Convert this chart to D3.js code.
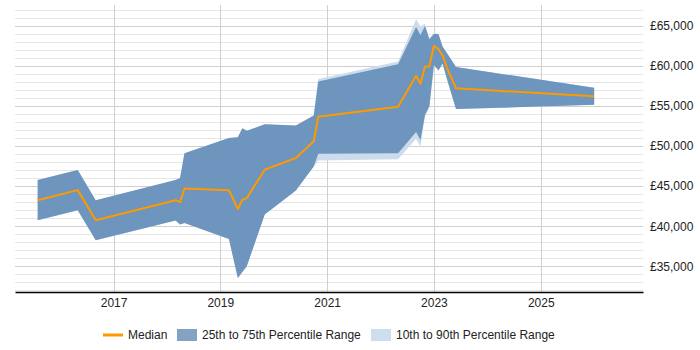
<!DOCTYPE html>
<html>
<head>
<meta charset="utf-8">
<script src="https://cdn.jsdelivr.net/npm/d3@7"></script>
<style>
  body { margin: 0; background: #fff; }
  svg text { font-family: "Liberation Sans", Arial, sans-serif; }
</style>
</head>
<body>
<div id="chart"></div>
<script>
// percentile data, one entry per month sampled
const dates = ["2015-08", "2016-05", "2016-09", "2018-03", "2018-04", "2018-05", "2019-03", "2019-05",
  "2019-06", "2019-07", "2019-11", "2020-06", "2020-10", "2020-11", "2022-05", "2022-09", "2022-10",
  "2022-11", "2022-12", "2023-01", "2023-02", "2023-03", "2023-04", "2023-06", "2026-01"];
const median = [43250, 44500, 40750, 43250, 43000, 44700, 44500, 42150, 43300, 43500, 47050, 48500,
  50600, 53650, 54900, 58750, 57750, 59900, 59900, 62500, 62050, 61300, 59700, 57200, 56200];
const p75 = [45750, 47000, 43250, 45750, 46000, 49100, 51000, 51100, 52200, 51900, 52700, 52550,
  53800, 58050, 60200, 64850, 63850, 64950, 63300, 63950, 63950, 62400, 61550, 59850, 57250];
const p25 = [40750, 42000, 38250, 40700, 40200, 40400, 38400, 33550, 34300, 35000, 41450, 44450,
  47450, 49050, 49100, 51750, 50750, 53900, 55000, 60100, 59400, 60300, 58300, 54600, 55150];
const p90 = [45750, 47000, 43250, 45750, 46000, 49100, 51000, 51100, 52200, 51900, 52700, 52550,
  53800, 58350, 60550, 65800, 64900, 65250, 63450, 64100, 63950, 62400, 61550, 59850, 57250];
const p10 = [40750, 42000, 38250, 40700, 40200, 40400, 38400, 33550, 34300, 35000, 41450, 44450,
  47450, 48200, 48350, 50900, 49950, 53650, 54750, 60100, 59400, 60300, 58300, 54600, 55150];

const xTickYears = [2017, 2019, 2021, 2023, 2025];
const yTicks = [35000, 40000, 45000, 50000, 55000, 60000, 65000];
const legendLabels = ["Median", "25th to 75th Percentile Range", "10th to 90th Percentile Range"];

const W = 700, H = 350;
const margin = { top: 5, right: 57, bottom: 58, left: 15 };
const width = W - margin.left - margin.right;
const height = H - margin.top - margin.bottom;

const parse = d3.timeParse("%Y-%m");
const rows = dates.map((d, i) => ({
  date: parse(d), median: median[i], p25: p25[i], p75: p75[i], p10: p10[i], p90: p90[i]
}));

const svg = d3.select("#chart").append("svg")
  .attr("width", W)
  .attr("height", H);

const g = svg.append("g").attr("transform", `translate(${margin.left},${margin.top})`);

const x = d3.scaleTime()
  .domain([new Date(2015, 1, 27), new Date(2026, 11, 1)])
  .range([0, width]);
const y = d3.scaleLinear()
  .domain([31800, 67580])
  .range([height, 0]);

// minor grid every 1000, major every 5000
const minor = d3.range(32000, 67001, 1000).filter(v => v % 5000 !== 0);
g.append("g").selectAll("line").data(minor).join("line")
  .attr("x1", 0).attr("x2", width)
  .attr("y1", d => Math.round(y(d)) + 0.5).attr("y2", d => Math.round(y(d)) + 0.5)
  .attr("stroke", "#e6e6e6");
g.append("g").selectAll("line").data(yTicks).join("line")
  .attr("x1", 0).attr("x2", width)
  .attr("y1", d => Math.round(y(d)) + 0.5).attr("y2", d => Math.round(y(d)) + 0.5)
  .attr("stroke", "#cfcfcf");

const xTicks = xTickYears.map(yr => new Date(yr, 0, 1));
g.append("g").selectAll("line").data(xTicks).join("line")
  .attr("x1", d => Math.round(x(d)) + 0.5).attr("x2", d => Math.round(x(d)) + 0.5)
  .attr("y1", 0).attr("y2", height)
  .attr("stroke", "#cfcfcf");

// bands
const area10 = d3.area().x(d => x(d.date)).y0(d => y(d.p10)).y1(d => y(d.p90));
const area25 = d3.area().x(d => x(d.date)).y0(d => y(d.p25)).y1(d => y(d.p75));
const line = d3.line().x(d => x(d.date)).y(d => y(d.median));

g.append("path").datum(rows).attr("d", area10).attr("fill", "#cddcec");
g.append("path").datum(rows).attr("d", area25).attr("fill", "#6d95bd");
g.append("path").datum(rows).attr("d", line)
  .attr("fill", "none").attr("stroke", "#ff9900").attr("stroke-width", 2)
  .attr("stroke-linejoin", "round");

// x axis
const xAxis = g.append("g")
  .attr("transform", `translate(0,${height})`)
  .call(d3.axisBottom(x).tickValues(xTicks).tickFormat(d3.timeFormat("%Y")).tickSize(0).tickPadding(6));
xAxis.select(".domain").attr("stroke", "#000").attr("stroke-width", 1.5);
xAxis.selectAll("text").attr("font-size", 12).attr("fill", "#222");

// y axis on right
const yAxis = g.append("g")
  .attr("transform", `translate(${width},0)`)
  .call(d3.axisRight(y).tickValues(yTicks).tickFormat(d => "£" + d3.format(",")(d)).tickSize(0).tickPadding(7));
yAxis.select(".domain").remove();
yAxis.selectAll("text").attr("font-size", 12).attr("fill", "#222");

// legend
const leg = svg.append("g").attr("transform", "translate(0,335)");
leg.append("line").attr("x1", 103).attr("x2", 123).attr("y1", 0).attr("y2", 0)
  .attr("stroke", "#ff9900").attr("stroke-width", 3);
leg.append("text").attr("x", 128).attr("y", 4).attr("font-size", 12).attr("fill", "#222").text(legendLabels[0]);
leg.append("rect").attr("x", 177).attr("y", -6).attr("width", 20).attr("height", 12).attr("fill", "#83a2c4");
leg.append("text").attr("x", 202).attr("y", 4).attr("font-size", 12).attr("fill", "#222").text(legendLabels[1]);
leg.append("rect").attr("x", 371).attr("y", -6).attr("width", 20).attr("height", 12).attr("fill", "#cfdeee");
leg.append("text").attr("x", 396).attr("y", 4).attr("font-size", 12).attr("fill", "#222").text(legendLabels[2]);
</script>
</body>
</html>
